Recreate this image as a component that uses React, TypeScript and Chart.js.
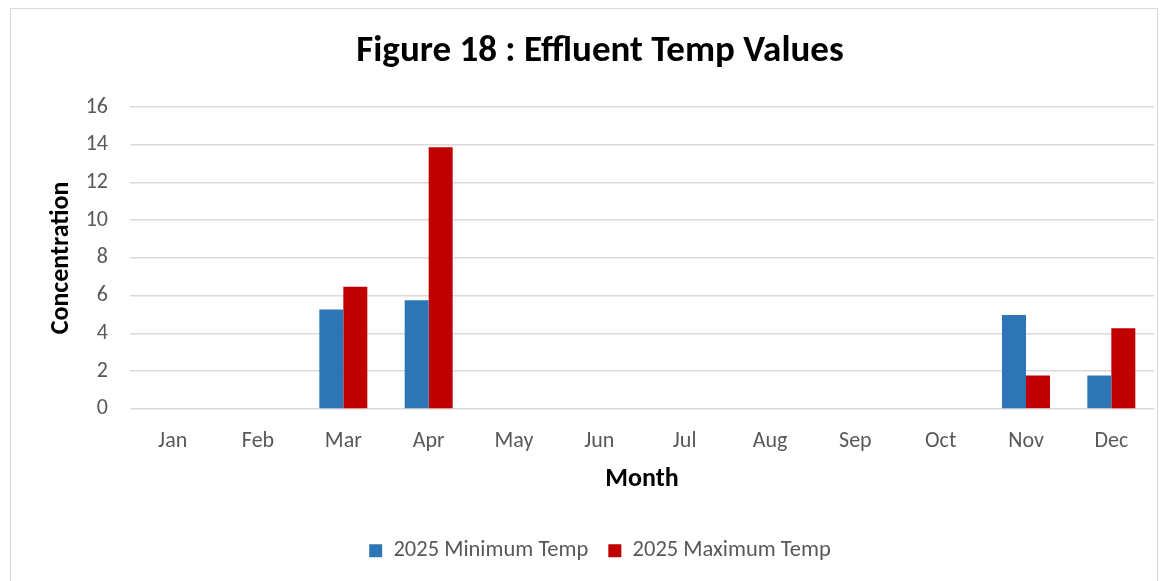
import React, { useEffect, useRef } from "react";
import { Chart, registerables } from "chart.js";

Chart.register(...registerables);

const months = ["Jan", "Feb", "Mar", "Apr", "May", "Jun", "Jul", "Aug", "Sep", "Oct", "Nov", "Dec"];
const minTemp = [null, null, 5.27, 5.76, null, null, null, null, null, null, 4.97, 1.77];
const maxTemp = [null, null, 6.47, 13.87, null, null, null, null, null, null, 1.77, 4.27];
const seriesNames = ["2025 Minimum Temp", "2025 Maximum Temp"];
const titleText = "Figure 18 : Effluent Temp Values";
const yTitle = "Concentration";
const xTitle = "Month";

const FONT = "Carlito, Calibri, Lato, 'Open Sans', sans-serif";

export default function App() {
  const ref = useRef<HTMLCanvasElement | null>(null);
  useEffect(() => {
    if (!ref.current) return;
    const chart = new Chart(ref.current, {
      type: "bar",
      data: {
        labels: months,
        datasets: [
          { label: seriesNames[0], data: minTemp, backgroundColor: "#2E75B6", borderWidth: 0 },
          { label: seriesNames[1], data: maxTemp, backgroundColor: "#C00000", borderWidth: 0 },
        ],
      },
      options: {
        animation: false,
        responsive: false,
        maintainAspectRatio: false,
        layout: { padding: { left: 46, right: 15, top: 0, bottom: 9 } },
        datasets: { bar: { categoryPercentage: 0.5625, barPercentage: 1 } },
        plugins: {
          title: {
            display: true,
            text: titleText,
            color: "#000",
            font: { family: FONT, size: 37, weight: "bold" },
            padding: { top: 30, bottom: 32.6 },
          },
          legend: {
            display: true,
            position: "bottom",
            labels: {
              boxWidth: 13,
              boxHeight: 13,
              color: "#595959",
              font: { family: FONT, size: 22.5 },
              padding: 20,
            },
          },
          tooltip: { enabled: false },
        },
        scales: {
          x: {
            grid: { display: false, drawTicks: false },
            border: { display: false },
            ticks: { color: "#595959", font: { family: FONT, size: 22 }, padding: 19 },
            title: {
              display: true,
              text: xTitle,
              color: "#000",
              font: { family: FONT, size: 26, weight: "bold" },
              padding: { top: -9, bottom: 24 },
            },
          },
          y: {
            min: 0,
            max: 16,
            ticks: { stepSize: 2, color: "#595959", font: { family: FONT, size: 22 }, padding: 22 },
            grid: { color: "#D9D9D9", lineWidth: 1.5, drawTicks: false },
            border: { display: false },
            title: {
              display: true,
              text: yTitle,
              color: "#000",
              font: { family: FONT, size: 26, weight: "bold" },
              padding: { top: 0, bottom: 0 },
            },
            afterFit: (scale: any) => {
              scale.width = 84;
            },
          },
        },
      },
    });
    return () => chart.destroy();
  }, []);
  return (
    <div style={{ position: "fixed", left: 0, top: 0, width: 1169, height: 581, background: "#fff" }}>
      <div
        style={{
          position: "absolute",
          left: 10,
          top: 8,
          width: 1148,
          height: 600,
          border: "1px solid #D9D9D9",
          boxSizing: "border-box",
        }}
      />
      <canvas ref={ref} width={1169} height={581} style={{ position: "absolute", left: 0, top: 0 }} />
    </div>
  );
}
